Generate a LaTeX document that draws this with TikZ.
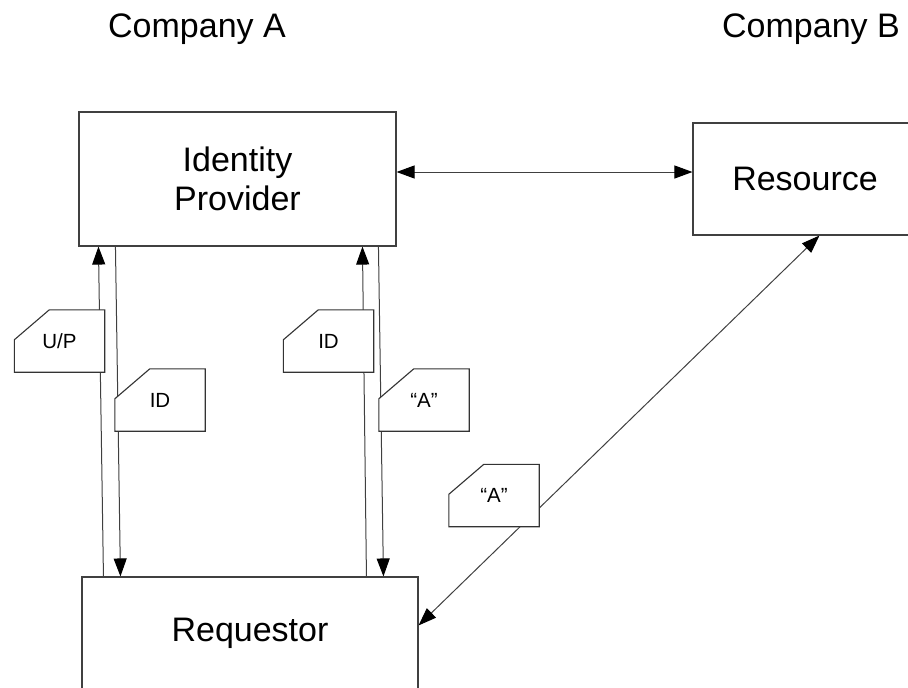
\documentclass[tikz,border=0pt]{standalone}
\usepackage{fontspec}
\setmainfont{Liberation Sans}
\usetikzlibrary{arrows.meta,calc}
\pgfdeclarelayer{wires}
\pgfdeclarelayer{cards}
\pgfsetlayers{wires,cards,main}
\tikzset{
  box/.style={draw=black!75, line width=1.1pt, inner sep=0pt, align=center,
    font=\fontsize{34}{39}\selectfont},
  title/.style={anchor=base, font=\fontsize{34}{39}\selectfont},
  cardtext/.style={minimum width=90pt, minimum height=62pt, inner sep=0pt,
    font=\fontsize{20.5}{24}\selectfont},
  cardline/.style={draw=black!80, line width=1.1pt, fill=white},
  tip/.tip={Triangle[length=18pt,width=13pt,color=black,fill=black]},
  wire/.style={draw=black!75, line width=1pt, -tip},
  dwire/.style={draw=black!75, line width=1pt, tip-tip},
}
\newcommand\cardoutline[1]{%
  \draw[cardline] ($(#1.north west)+(35,0)$) -- (#1.north east) -- (#1.south east)
    -- (#1.south west) -- ($(#1.north west)+(0,30)$) -- cycle;}
\begin{document}
\begin{tikzpicture}[x=1pt,y=-1pt]
\useasboundingbox (0,0) rectangle (908,688);
\clip (0,0) rectangle (908,688);

% titles
\node[title] (ca) at (197,37) {Company A};
\node[title] (cb) at (811,37) {Company B};

% boxes
\node[box, minimum width=317pt, minimum height=134pt] (idp) at (237.5,179) {Identity\\Provider};
\node[box, minimum width=224pt, minimum height=112pt] (res) at (805,179) {Resource};
\node[box, minimum width=336pt, minimum height=113pt] (req) at (250,633.5) {Requestor};

% cards (text)
\node[cardtext] (up) at (59.5,341) {U/P};
\node[cardtext] (idl) at (160,400) {ID};
\node[cardtext] (idm) at (328.5,341) {ID};
\node[cardtext] (am) at (424,400) {“A”};
\node[cardtext] (ad) at (494,495.5) {“A”};

% connectors
\begin{pgfonlayer}{wires}
\draw[wire] ($(req.north west)+(22,0)$) -- ($(idp.south west)+(20,0)$);
\draw[wire] ($(idp.south west)+(37,0)$) -- ($(req.north west)+(39,0)$);
\draw[wire] ($(req.north west)+(285,0)$) -- ($(idp.south west)+(284,0)$);
\draw[wire] ($(idp.south west)+(300,0)$) -- ($(req.north west)+(302,0)$);
\draw[dwire] ($(idp.east)+(0,-7)$) -- ($(res.west)+(0,-7)$);
\draw[dwire] ($(res.south west)+(127,0)$) -- ($(req.north east)+(0,49)$);
\end{pgfonlayer}

% card outlines
\begin{pgfonlayer}{cards}
\cardoutline{up}
\cardoutline{idl}
\cardoutline{idm}
\cardoutline{am}
\cardoutline{ad}
\end{pgfonlayer}
\end{tikzpicture}
\end{document}
